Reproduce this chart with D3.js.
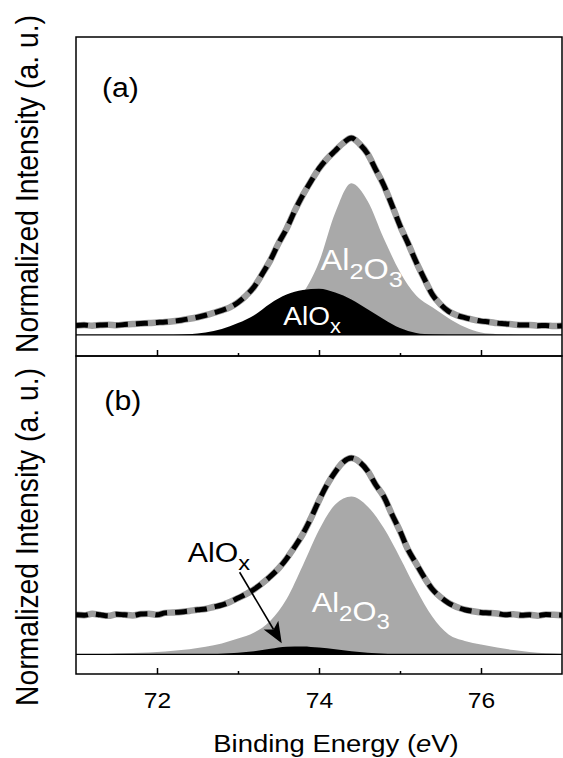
<!DOCTYPE html>
<html lang="en">
<head>
<meta charset="UTF-8">
<title>Al 2p XPS</title>
<script src="https://d3js.org/d3.v7.min.js"></script>
<style>
  body { margin: 0; background: #fff; }
  text { font-family: "Liberation Sans", Arial, sans-serif; }
</style>
</head>
<body>
<div id="chart"></div>
<script>

// binding energies of the measured points (eV)
var energy = [71.0,71.1,71.2,71.3,71.4,71.5,71.6,71.7,71.8,71.9,
              72.0,72.1,72.2,72.3,72.4,72.5,72.6,72.7,72.8,72.9,
              73.0,73.1,73.2,73.3,73.4,73.5,73.6,73.7,73.8,73.9,
              74.0,74.1,74.2,74.3,74.4,74.5,74.6,74.7,74.8,74.9,
              75.0,75.1,75.2,75.3,75.4,75.5,75.6,75.7,75.8,75.9,
              76.0,76.1,76.2,76.3,76.4,76.5,76.6,76.7,76.8,76.9,77.0];

// measured spectra, normalized
var dataA = [0.048,0.050,0.047,0.050,0.052,0.049,0.053,0.055,0.058,0.060,
             0.063,0.066,0.070,0.075,0.082,0.090,0.100,0.112,0.125,0.140,
             0.165,0.200,0.245,0.310,0.380,0.465,0.540,0.630,0.710,0.780,
             0.845,0.895,0.935,0.975,1.000,0.970,0.920,0.840,0.760,0.660,
             0.555,0.465,0.370,0.285,0.205,0.155,0.120,0.100,0.088,0.078,
             0.070,0.066,0.060,0.057,0.053,0.050,0.051,0.047,0.048,0.045,0.047];
var dataB = [0.200,0.198,0.205,0.200,0.195,0.203,0.200,0.197,0.204,0.206,
             0.200,0.210,0.212,0.215,0.220,0.226,0.230,0.240,0.250,0.265,
             0.285,0.305,0.330,0.360,0.395,0.435,0.485,0.545,0.610,0.690,
             0.780,0.860,0.925,0.975,0.995,0.975,0.930,0.860,0.800,0.710,
             0.625,0.530,0.460,0.390,0.330,0.290,0.260,0.240,0.226,0.218,
             0.212,0.210,0.207,0.200,0.203,0.198,0.200,0.196,0.202,0.200,0.198];

// fitted components
var energyFit = [71.0,71.2,71.4,71.6,71.8,72.0,72.2,72.4,72.6,72.8,
                 73.0,73.2,73.4,73.6,73.8,74.0,74.2,74.4,74.6,74.8,
                 75.0,75.2,75.4,75.6,75.8,76.0,76.2,76.4,76.6,76.8,77.0];
var al2o3A = [0,0,0,0,0,0,0,0.002,0.004,0.007,
              0.012,0.03,0.06,0.12,0.21,0.37,0.62,0.77,0.68,0.49,
              0.32,0.2,0.14,0.085,0.04,0.012,0.004,0.001,0,0,0];
var aloxA  = [0,0,0,0,0,0,0,0.003,0.012,0.03,
              0.06,0.1,0.16,0.205,0.228,0.234,0.215,0.18,0.13,0.08,
              0.035,0.01,0.002,0,0,0,0,0,0,0,0];
var al2o3B = [0,0.001,0.002,0.005,0.008,0.012,0.018,0.026,0.038,0.055,
              0.08,0.11,0.17,0.28,0.45,0.63,0.76,0.80,0.75,0.64,
              0.49,0.33,0.19,0.1,0.068,0.05,0.035,0.022,0.012,0.005,0.002];
var aloxB  = [0,0,0,0,0,0,0,0,0,0.003,
              0.008,0.016,0.028,0.038,0.04,0.034,0.025,0.016,0.008,0.003,
              0,0,0,0,0,0,0,0,0,0,0];

// axis ticks
var majorTicks = [72, 74, 76];
var minorTicks = [73, 75];

// annotation anchors (energy, intensity)
var panelLabels = [{t: "(a)", e: 71.32, v: 1.208}, {t: "(b)", e: 71.35, v: 1.239}];
var arrowB = [[73.02, 0.416], [73.54, 0.056]];

var W = 563, H = 758;
var S = 1.12; // horizontal stretch of the lettering in the original figure

var svg = d3.select("#chart").append("svg")
  .attr("width", W).attr("height", H);

var defs = svg.append("defs");

var x = d3.scaleLinear().domain([71, 77]).range([76, 562]);

var panels = [
  {y: d3.scaleLinear().domain([-0.107, 1.513]).range([356, 37]), data: dataA, ox: al2o3A, al: aloxA, top: 37, bot: 356},
  {y: d3.scaleLinear().domain([-0.1, 1.513]).range([674, 356]), data: dataB, ox: al2o3B, al: aloxB, top: 356, bot: 674}
];

// text with the horizontal stretch, optional subscripts
function label(g, px, py, size, parts, fill) {
  var t = g.append("text")
    .attr("transform", "translate(" + px + "," + py + ") scale(" + S + ",1)")
    .attr("font-size", size)
    .attr("fill", fill);
  parts.forEach(function(p) {
    if (p.sub) {
      t.append("tspan").attr("font-size", size * 0.78).attr("dy", size * 0.3).text(p.s);
      t.append("tspan").attr("dy", -size * 0.3).text("");
    } else {
      t.append("tspan").text(p.s);
    }
  });
  return t;
}

panels.forEach(function(p, i) {
  var g = svg.append("g");
  var y = p.y;

  var clip = "clip" + i;
  defs.append("clipPath").attr("id", clip)
    .append("rect").attr("x", x(71)).attr("y", p.top).attr("width", x(77) - x(71)).attr("height", p.bot - p.top);
  var inner = g.append("g").attr("clip-path", "url(#" + clip + ")");

  var fit = energyFit.map(function(e, k) { return {e: e, ox: p.ox[k], al: p.al[k]}; });

  inner.append("path")
    .datum(fit)
    .attr("fill", "#a9a9a9")
    .attr("d", d3.area().curve(d3.curveMonotoneX)
      .x(function(d) { return x(d.e); })
      .y0(y(0))
      .y1(function(d) { return y(d.ox); }));

  inner.append("path")
    .datum(fit)
    .attr("fill", "#000")
    .attr("d", d3.area().curve(d3.curveMonotoneX)
      .x(function(d) { return x(d.e); })
      .y0(y(0))
      .y1(function(d) { return y(d.al); }));

  // zero line
  inner.append("line")
    .attr("x1", x(71)).attr("x2", x(77))
    .attr("y1", y(0)).attr("y2", y(0))
    .attr("stroke", "#000").attr("stroke-width", 1.3);

  var pts = energy.map(function(e, k) { return {e: e, v: p.data[k]}; });
  var line = d3.line().curve(d3.curveMonotoneX)
    .x(function(d) { return x(d.e); })
    .y(function(d) { return y(d.v); });

  inner.append("path").datum(pts)
    .attr("fill", "none").attr("stroke", "#9c9c9c").attr("stroke-width", 6.5)
    .attr("d", line);
  inner.append("path").datum(pts)
    .attr("fill", "none").attr("stroke", "#000").attr("stroke-width", 5)
    .attr("stroke-dasharray", "12,8")
    .attr("d", line);

  // frame
  g.append("rect")
    .attr("x", x(71)).attr("y", p.top)
    .attr("width", x(77) - x(71)).attr("height", p.bot - p.top)
    .attr("fill", "none").attr("stroke", "#000").attr("stroke-width", 1.5);

  // ticks pointing inward at the bottom
  var major = g.append("g")
    .attr("transform", "translate(0," + p.bot + ")")
    .call(d3.axisBottom(x).tickValues(majorTicks).tickSizeInner(-6).tickSizeOuter(0).tickPadding(18)
      .tickFormat(i === 1 ? d3.format("d") : function() { return ""; }));
  var minor = g.append("g")
    .attr("transform", "translate(0," + p.bot + ")")
    .call(d3.axisBottom(x).tickValues(minorTicks).tickSizeInner(-3).tickSizeOuter(0).tickFormat(""));
  [major, minor].forEach(function(a) {
    a.select(".domain").remove();
    a.selectAll("line").attr("stroke-width", 1.5);
  });
  major.selectAll("text")
    .attr("font-size", 22)
    .attr("fill", "#000")
    .attr("font-family", "Liberation Sans, Arial, sans-serif")
    .attr("transform", "scale(" + S + ",1)");

  var pl = panelLabels[i];
  label(g, x(pl.e), y(pl.v), 27, [{s: pl.t}], "#000");

  // y label
  g.append("text")
    .attr("transform", "translate(38," + (i === 0 ? 184 : 537) + ") scale(" + S + ",1) rotate(-90)")
    .attr("text-anchor", "middle")
    .attr("font-size", 28.3)
    .attr("fill", "#000")
    .text("Normalized Intensity (a. u.)");

  if (i === 0) {
    label(g, x(74.02), y(0.33), 29, [{s: "Al"}, {s: "2", sub: true}, {s: "O"}, {s: "3", sub: true}], "#fff");
    label(g, x(73.56), y(0.05), 25, [{s: "AlO"}, {s: "x", sub: true}], "#fff");
  } else {
    label(g, x(73.91), y(0.213), 27.5, [{s: "Al"}, {s: "2", sub: true}, {s: "O"}, {s: "3", sub: true}], "#fff");
    label(g, x(72.38), y(0.467), 27, [{s: "AlO"}, {s: "x", sub: true}], "#000");

    // arrow pointing at the small AlOx component
    var x1 = x(arrowB[0][0]), y1 = y(arrowB[0][1]);
    var x2 = x(arrowB[1][0]), y2 = y(arrowB[1][1]);
    var ang = Math.atan2(y2 - y1, x2 - x1);
    var hl = 21, hw = 8.5, notch = 5;
    var bx = x2 - hl * Math.cos(ang), by = y2 - hl * Math.sin(ang);
    var nx = x2 - (hl - notch) * Math.cos(ang), ny = y2 - (hl - notch) * Math.sin(ang);
    var px = -Math.sin(ang), py = Math.cos(ang);
    g.append("line")
      .attr("x1", x1).attr("y1", y1).attr("x2", nx).attr("y2", ny)
      .attr("stroke", "#000").attr("stroke-width", 1.6);
    g.append("path")
      .attr("d", "M" + x2 + "," + y2 +
                 "L" + (bx + px * hw) + "," + (by + py * hw) +
                 "L" + nx + "," + ny +
                 "L" + (bx - px * hw) + "," + (by - py * hw) + "Z")
      .attr("fill", "#000");
  }
});

// x label
var xl = svg.append("text")
  .attr("transform", "translate(" + 336 + ",752) scale(" + S + ",1)")
  .attr("text-anchor", "middle")
  .attr("font-size", 24.5)
  .attr("fill", "#000");
xl.append("tspan").text("Binding Energy (");
xl.append("tspan").attr("font-style", "italic").text("e");
xl.append("tspan").text("V)");

</script>
</body>
</html>
